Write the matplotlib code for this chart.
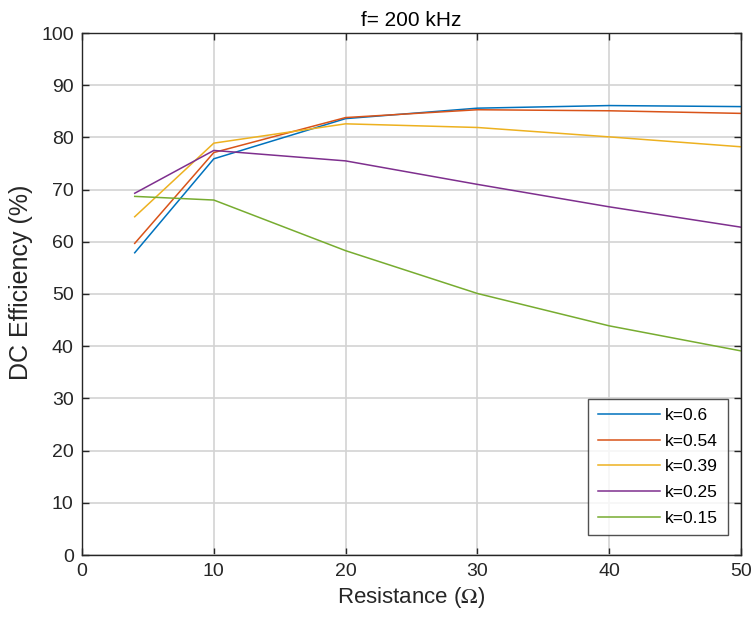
import numpy as np
import matplotlib
matplotlib.use("Agg")
import matplotlib.pyplot as plt

# data
resistance = [4, 10, 20, 30, 40, 50]
labels = ["k=0.6", "k=0.54", "k=0.39", "k=0.25", "k=0.15"]
eff_k060 = [57.9, 75.9, 83.6, 85.6, 86.1, 85.9]
eff_k054 = [59.7, 77.1, 83.8, 85.3, 85.1, 84.6]
eff_k039 = [64.8, 78.9, 82.6, 81.9, 80.1, 78.2]
eff_k025 = [69.3, 77.5, 75.5, 71.0, 66.7, 62.8]
eff_k015 = [68.7, 68.0, 58.3, 50.1, 43.9, 39.1]

colors = ["#0072BD", "#D95319", "#EDB120", "#7E2F8E", "#77AC30"]

plt.rcParams['font.family'] = ['Liberation Sans', 'DejaVu Sans']
plt.rcParams['mathtext.fontset'] = 'stix'

fig = plt.figure(figsize=(7.54, 6.24), dpi=100)
ax = fig.add_axes([82/754, 1-555/624, (741-82)/754, (555-33)/624])

series = [eff_k060, eff_k054, eff_k039, eff_k025, eff_k015]
for y, c, lab in zip(series, colors, labels):
    ax.plot(resistance, y, color=c, lw=1.1, label=lab)

ax.set_xlim(0, 50)
ax.set_ylim(0, 100)
ax.set_xticks(np.arange(0, 51, 10))
ax.set_yticks(np.arange(0, 101, 10))
ax.grid(True, color="#d3d3d3", lw=1.2)
ax.set_axisbelow(True)

dark = "#262626"
for s in ax.spines.values():
    s.set_color(dark)
    s.set_linewidth(1.0)
ax.tick_params(direction="in", length=5, width=1.0, colors=dark,
               labelsize=14, top=True, right=True, pad=6)
for t in ax.get_xticklabels() + ax.get_yticklabels():
    t.set_color(dark)

ax.set_xlabel(r"Resistance ($\Omega$)", fontsize=16, color=dark, labelpad=3)
ax.set_ylabel("DC Efficiency (%)", fontsize=18, color=dark)
ax.yaxis.set_label_coords(-0.074, 0.522)
ax.set_title("f= 200 kHz", fontsize=15, color="black", pad=5)

leg = ax.legend(loc="lower right", bbox_to_anchor=(0.980, 0.038),
                fontsize=12.5, frameon=True, fancybox=False,
                edgecolor=dark, borderaxespad=0.0, handlelength=3.6,
                handletextpad=0.3, labelspacing=0.6, borderpad=0.55)
leg.get_frame().set_linewidth(1.0)

fig.savefig("out.png", dpi=100)
